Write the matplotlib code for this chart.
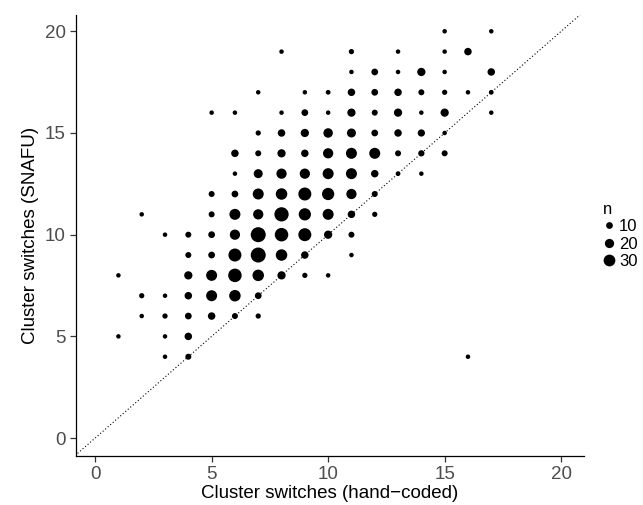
import matplotlib
matplotlib.use("Agg")
import matplotlib.pyplot as plt
from matplotlib.lines import Line2D
import numpy as np

plt.rcParams['font.family'] = ['Liberation Sans', 'DejaVu Sans']

# hand-coded cluster switches (x), SNAFU cluster switches (y), count (n)
hand_coded = [1, 1,
              2, 2, 2,
              3, 3, 3, 3, 3,
              4, 4, 4, 4, 4, 4, 4,
              5, 5, 5, 5, 5, 5, 5, 5,
              6, 6, 6, 6, 6, 6, 6, 6, 6, 6,
              7, 7, 7, 7, 7, 7, 7, 7, 7, 7, 7,
              8, 8, 8, 8, 8, 8, 8, 8, 8, 8,
              9, 9, 9, 9, 9, 9, 9, 9, 9, 9,
              10, 10, 10, 10, 10, 10, 10, 10, 10,
              11, 11, 11, 11, 11, 11, 11, 11, 11, 11, 11,
              12, 12, 12, 12, 12, 12, 12, 12,
              13, 13, 13, 13, 13, 13, 13,
              14, 14, 14, 14, 14, 14,
              15, 15, 15, 15, 15, 15, 15,
              16, 16, 16,
              17, 17, 17, 17]
snafu = [8, 5,
         11, 7, 6,
         10, 7, 6, 5, 4,
         10, 9, 8, 7, 6, 5, 4,
         16, 12, 11, 10, 9, 8, 7, 6,
         16, 14, 13, 12, 11, 10, 9, 8, 7, 6,
         17, 15, 14, 13, 12, 11, 10, 9, 8, 7, 6,
         19, 16, 15, 14, 13, 12, 11, 10, 9, 8,
         17, 16, 15, 14, 13, 12, 11, 10, 9, 8,
         17, 16, 15, 14, 13, 12, 11, 10, 8,
         19, 18, 17, 16, 15, 14, 13, 12, 11, 10, 9,
         18, 17, 16, 15, 14, 13, 12, 11,
         19, 18, 17, 16, 15, 14, 13,
         18, 17, 16, 15, 14, 13,
         20, 19, 18, 17, 16, 15, 14,
         19, 17, 4,
         20, 18, 17, 16]
counts = [1, 1,
          1, 4, 1,
          1, 1, 4, 1, 1,
          7, 7, 16, 13, 10, 13, 7,
          1, 7, 7, 10, 10, 27, 27, 13,
          1, 13, 1, 10, 27, 24, 35, 37, 29, 7,
          1, 4, 7, 19, 27, 24, 43, 43, 29, 10, 4,
          1, 1, 13, 16, 24, 29, 40, 37, 29, 16,
          1, 10, 16, 13, 24, 35, 32, 35, 13, 4,
          2, 1, 21, 24, 27, 32, 27, 16, 1,
          4, 1, 13, 16, 19, 27, 27, 24, 13, 7, 1,
          10, 10, 7, 10, 27, 13, 7, 4,
          1, 1, 13, 16, 13, 7, 2,
          16, 7, 1, 12, 8, 1,
          1, 1, 1, 4, 16, 1, 7,
          13, 1, 1,
          1, 13, 2, 1]

legend_breaks = [10, 20, 30]
x_ticks = [0, 5, 10, 15, 20]
y_ticks = [0, 5, 10, 15, 20]

DPI = 100
N_MIN = 1


def size_of(n):
    d_px = 4.5 + 0.25 * (np.asarray(n, dtype=float) - N_MIN)
    d_pt = d_px * 72.0 / DPI
    return d_pt ** 2


fig = plt.figure(figsize=(6.43, 5.05), dpi=DPI)
ax = fig.add_axes([76 / 643, 1 - 456 / 505, (584 - 76) / 643, (456 - 15) / 505])

ax.plot([-5, 25], [-5, 25], linestyle=(0, (1, 2)), color='black', linewidth=0.8, zorder=1)
ax.scatter(hand_coded, snafu, s=size_of(counts), color='black', edgecolors='none', zorder=2)

ax.set_xlim(-0.82, 20.98)
ax.set_ylim(-0.88, 20.8)
ax.set_xticks(x_ticks)
ax.set_yticks(y_ticks)
for sp in ['top', 'right']:
    ax.spines[sp].set_visible(False)
for sp in ['left', 'bottom']:
    ax.spines[sp].set_linewidth(0.9)
    ax.spines[sp].set_color('black')
ax.tick_params(axis='both', colors='#333333', labelcolor='#4D4D4D', labelsize=13.5,
               length=4, width=0.9)
ax.set_xlabel('Cluster switches (hand\u2212coded)', fontsize=13.5, color='black', labelpad=1)
ax.set_ylabel('Cluster switches (SNAFU)', fontsize=13.5, color='black', labelpad=4)

handles = [Line2D([], [], linestyle='none', marker='o', color='black',
                  markersize=np.sqrt(size_of(b)), markeredgewidth=0) for b in legend_breaks]
leg = ax.legend(handles, [str(b) for b in legend_breaks], title='n', frameon=False,
                loc='center left', bbox_to_anchor=(1.02, 0.5), fontsize=12,
                title_fontsize=12, handlelength=0.8, handletextpad=0.2,
                labelspacing=0.15, borderpad=0, alignment='left')

fig.savefig('out.png', dpi=DPI)
